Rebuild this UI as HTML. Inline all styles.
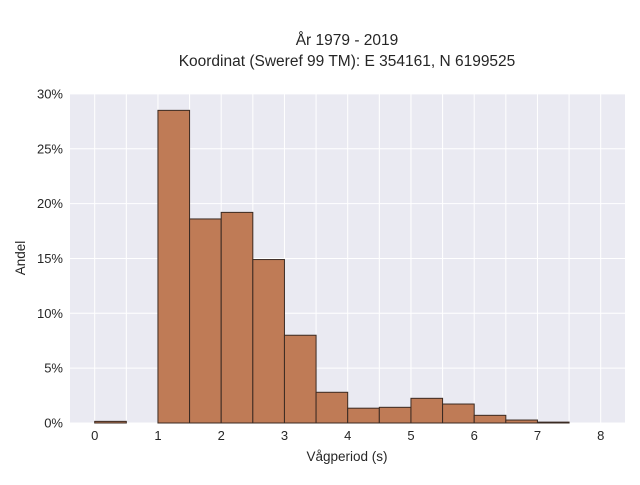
<!DOCTYPE html>
<html><head><meta charset="utf-8"><style>
body{margin:0;background:#fff;}
svg text{font-family:"Liberation Sans",sans-serif;fill:#262626;}
</style></head><body>
<svg id="c" width="640" height="480" xmlns="http://www.w3.org/2000/svg">
<text x="347" y="45" text-anchor="middle" font-size="15.5">År 1979 - 2019</text>
<text x="347" y="66" text-anchor="middle" font-size="15.5">Koordinat (Sweref 99 TM): E 354161, N 6199525</text>
<rect x="70" y="94" width="555" height="329" fill="#eaeaf2"/>
<g id="grid"></g><g id="bars"></g><g id="ticks"></g>
<text x="347" y="461" text-anchor="middle" font-size="13.5">Vågperiod (s)</text>
<text transform="translate(25,258) rotate(-90)" text-anchor="middle" font-size="13.5">Andel</text>
</svg>
<script>
const binStarts=[0,0.5,1,1.5,2,2.5,3,3.5,4,4.5,5,5.5,6,6.5,7,7.5];
const shares=[0.15,0,28.5,18.6,19.2,14.9,8.0,2.8,1.35,1.43,2.25,1.73,0.7,0.27,0.08,0];
const binWidth=0.5;
const xTicks=[0,1,2,3,4,5,6,7,8];
const yTicks=[0,5,10,15,20,25,30];
const NS='http://www.w3.org/2000/svg';
const X=v=>94.7+v*63.25;
const Y=v=>423-v*10.97;
function mk(tag,attrs,parent){const e=document.createElementNS(NS,tag);for(const k in attrs)e.setAttribute(k,attrs[k]);document.getElementById(parent).appendChild(e);return e;}
for(let g=0;g<=8;g+=0.5){const l=mk('line',{x1:X(g),x2:X(g),y1:94,y2:423,stroke:'#fff','stroke-width':1},'grid');

}
yTicks.forEach(t=>{const l=mk('line',{x1:70,x2:625,y1:Y(t),y2:Y(t),stroke:'#fff','stroke-width':1},'grid');


const tx=mk('text',{x:63,y:Y(t)+4.5,'text-anchor':'end','font-size':13},'ticks');tx.textContent=t+'%';

});
xTicks.forEach(t=>{const tx=mk('text',{x:X(t),y:440,'text-anchor':'middle','font-size':13},'ticks');tx.textContent=t;

});
binStarts.forEach((b,i)=>{if(shares[i]<=0)return;const r=mk('rect',{x:X(b),y:Y(shares[i]),width:X(b+binWidth)-X(b),height:Y(0)-Y(shares[i]),fill:'#bf7b56',stroke:'#3a2a22','stroke-width':1},'bars');

});
</script>
</body></html>
